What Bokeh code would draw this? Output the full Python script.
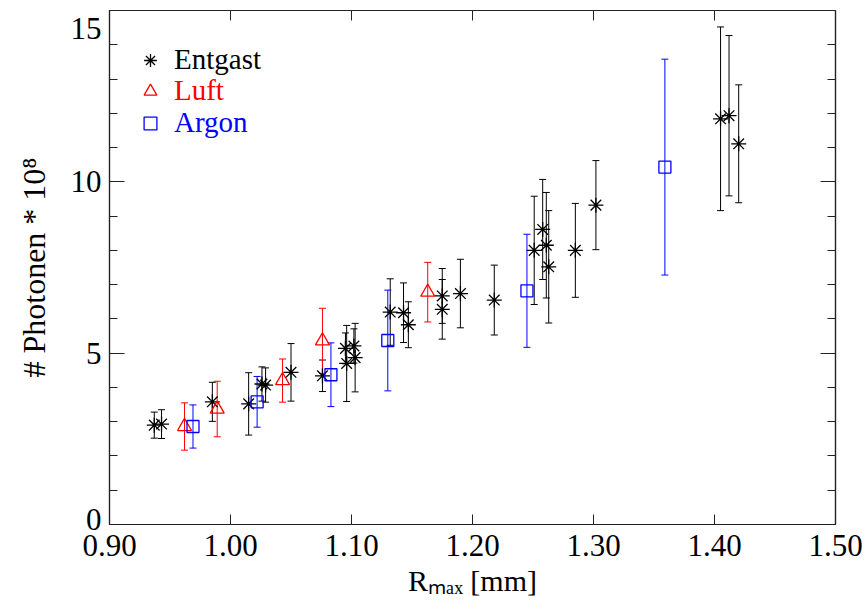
import numpy as np
from bokeh.plotting import figure
from bokeh.models import (ColumnDataSource, Whisker, TeeHead, FixedTicker, LinearAxis,
                          Legend, LegendItem, Range1d, PrintfTickFormatter)
from bokeh.embed import file_html
from bokeh.resources import INLINE

# ---------------- data ----------------
ent_x = [0.937, 0.943, 0.985, 1.015, 1.026, 1.029, 1.050, 1.076, 1.095, 1.096, 1.102, 1.103,
         1.132, 1.143, 1.147, 1.175, 1.175, 1.190, 1.218, 1.251, 1.258, 1.261, 1.263, 1.285,
         1.302, 1.405, 1.412, 1.420]
ent_y = [2.90, 2.93, 3.58, 3.52, 4.10, 4.07, 4.44, 4.34, 5.14, 4.70, 5.21, 4.87,
         6.20, 6.18, 5.83, 6.67, 6.28, 6.74, 6.55, 8.00, 8.61, 8.15, 7.52, 8.00,
         9.32, 11.84, 11.93, 11.11]
ent_err = [0.38, 0.42, 0.57, 0.91, 0.50, 0.50, 0.84, 0.46, 0.45, 1.11, 0.50, 1.00,
           0.97, 0.87, 0.67, 0.80, 0.87, 1.00, 1.02, 1.58, 1.46, 1.54, 1.64, 1.37,
           1.30, 2.68, 2.34, 1.72]

luft_x = [0.962, 0.989, 1.043, 1.076, 1.163]
luft_y = [2.86, 3.37, 4.20, 5.36, 6.78]
luft_err = [0.69, 0.81, 0.63, 0.95, 0.87]

argon_x = [0.969, 1.022, 1.083, 1.130, 1.245, 1.359]
argon_y = [2.86, 3.58, 4.37, 5.37, 6.82, 10.43]
argon_err = [0.63, 0.74, 0.93, 1.47, 1.65, 3.15]

series_names = ["Entgast", "Luft", "Argon"]
series_colors = ["#000000", "#FF0000", "#0000FF"]

x_ticks = [0.9, 1.0, 1.1, 1.2, 1.3, 1.4, 1.5]
y_ticks = [0, 5, 10, 15]
y_tick_labels = ["0\n", "5", "10", "\n15"]   # end labels kept inside the axis range
y_minor = list(range(0, 16))

FONT = "Liberation Serif"
AXC = "#222222"

def src(x, y, e):
    x = np.array(x); y = np.array(y); e = np.array(e)
    return ColumnDataSource(dict(x=x, y=y, upper=y + e, lower=y - e))

p = figure(width=865, height=603, output_backend="svg", toolbar_location=None,
           x_range=Range1d(0.9, 1.5), y_range=Range1d(0, 15),
           min_border_left=109, min_border_right=30, min_border_top=10, min_border_bottom=79)
p.background_fill_color = "white"
p.border_fill_color = "white"
p.outline_line_color = AXC
p.outline_line_width = 1.2
p.xgrid.visible = False
p.ygrid.visible = False

# bottom axis
xa = p.xaxis[0]
xa.ticker = FixedTicker(ticks=x_ticks, minor_ticks=[])
xa.formatter = PrintfTickFormatter(format="%.2f")
xa.axis_label = "Rₘₐₓ [mm]"
# left axis
ya = p.yaxis[0]
ya.ticker = FixedTicker(ticks=y_ticks, minor_ticks=y_minor)
ya.major_label_overrides = dict(zip(y_ticks, y_tick_labels))
ya.axis_label = "# Photonen * 10⁸"

for ax in (xa, ya):
    ax.axis_line_color = AXC
    ax.axis_line_width = 1.2
    ax.major_tick_out = 0
    ax.minor_tick_out = 0
    ax.major_tick_line_color = AXC
    ax.minor_tick_line_color = AXC
    ax.major_label_text_font = FONT
    ax.major_label_text_font_size = "31px"
    ax.major_label_text_color = "black"
    ax.axis_label_text_font = FONT
    ax.axis_label_text_font_style = "normal"
    ax.axis_label_text_color = "black"
xa.axis_label_text_font_size = "30px"
ya.axis_label_text_font_size = "32px"
ya.major_label_text_line_height = 0.3
xa.major_tick_in = 10
xa.major_label_standoff = 10
xa.axis_label_standoff = 5
ya.major_tick_in = 15
ya.minor_tick_in = 8
ya.major_label_standoff = 8
ya.axis_label_standoff = 16

# mirrored axes (top / right), ticks only
ta = LinearAxis(ticker=FixedTicker(ticks=x_ticks, minor_ticks=[]))
ra = LinearAxis(ticker=FixedTicker(ticks=y_ticks, minor_ticks=y_minor))
for ax in (ta, ra):
    ax.major_label_text_font_size = "1px"
    ax.major_label_text_color = None
    ax.major_label_standoff = 0
    ax.major_tick_out = 0
    ax.minor_tick_out = 0
    ax.axis_line_color = AXC
    ax.axis_line_width = 1.2
    ax.major_tick_line_color = AXC
    ax.minor_tick_line_color = AXC
ta.major_tick_in = 10
ra.major_tick_in = 15
ra.minor_tick_in = 8
p.add_layout(ta, "above")
p.add_layout(ra, "right")

# data
renderers = []
for (xs, ys, es), marker, color, size in zip(
        [(ent_x, ent_y, ent_err), (luft_x, luft_y, luft_err), (argon_x, argon_y, argon_err)],
        ["asterisk", "triangle", "square"], series_colors, [15, 14, 12]):
    s = src(xs, ys, es)
    w = Whisker(base="x", upper="upper", lower="lower", source=s,
                line_color=color, line_width=1,
                upper_head=TeeHead(size=7, line_color=color, line_width=1),
                lower_head=TeeHead(size=7, line_color=color, line_width=1))
    p.add_layout(w)
    r = p.scatter("x", "y", source=s, marker=marker, size=size, line_color=color,
                  fill_color=None, line_width=1.3)
    renderers.append(r)

# legend: one legend per entry so that each text has its series colour
legend_y = [448, 417, 385]
for name, color, r, ly in zip(series_names, series_colors, renderers, legend_y):
    lg = Legend(items=[LegendItem(label=name, renderers=[r])], location=(25, ly),
                glyph_width=32, glyph_height=32, label_height=32, label_standoff=8,
                padding=0, margin=0, spacing=0, border_line_color=None,
                background_fill_alpha=0, label_text_font=FONT,
                label_text_font_size="29px", label_text_color=color)
    p.add_layout(lg)

open("out.html", "w").write(file_html(p, INLINE))
